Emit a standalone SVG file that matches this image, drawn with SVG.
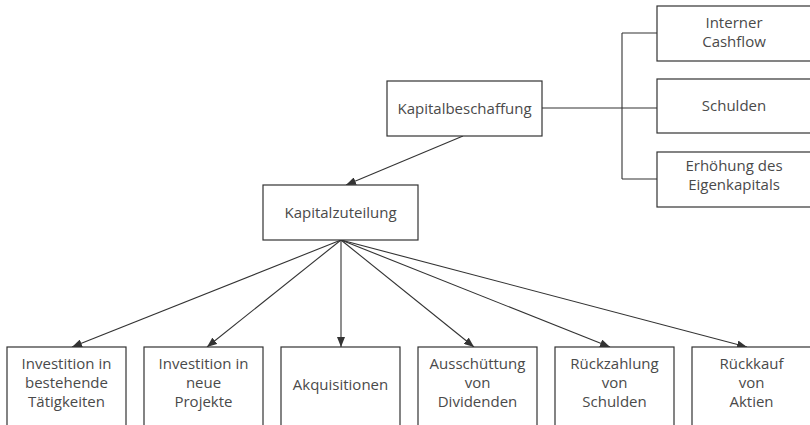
<svg xmlns="http://www.w3.org/2000/svg" width="810" height="425" viewBox="0 0 810 425">
  <style>
    .box { fill: #ffffff; stroke: #333333; stroke-width: 1.2; }
    .lbl { font-family: "Open Sans", "Noto Sans", sans-serif; font-size: 15px; fill: #4a4a4a; text-anchor: middle; }
    .edge { fill: none; stroke: #333333; stroke-width: 1.1; }
    .arrow { marker-end: url(#head); }
  </style>
  <defs>
    <marker id="head" viewBox="0 0 10 8" refX="10" refY="4" markerWidth="10" markerHeight="8" markerUnits="userSpaceOnUse" orient="auto">
      <path d="M0,0 L10,4 L0,8 Z" fill="#333333"/>
    </marker>
  </defs>
  <rect width="810" height="425" fill="#ffffff"/>

  <g id="connectors">
    <!-- funding sources bracket -->
    <path class="edge" d="M542,108 H657 M622,33 V179 M622,33 H657 M622,179 H657"/>
    <!-- funding to allocation -->
    <line class="edge arrow" x1="463" y1="136" x2="346" y2="185"/>
    <!-- allocation to uses -->
    <line class="edge arrow" x1="341" y1="240" x2="72" y2="347"/>
    <line class="edge arrow" x1="341" y1="240" x2="207" y2="347"/>
    <line class="edge arrow" x1="341" y1="240" x2="341" y2="347"/>
    <line class="edge arrow" x1="341" y1="240" x2="474" y2="347"/>
    <line class="edge arrow" x1="341" y1="240" x2="610" y2="347"/>
    <line class="edge arrow" x1="341" y1="240" x2="747" y2="347"/>
  </g>

  <g id="kapitalbeschaffung">
    <rect class="box" x="387" y="81" width="155" height="55"/>
    <text class="lbl" x="464.5" y="114">Kapitalbeschaffung</text>
  </g>
  <g id="interner-cashflow">
    <rect class="box" x="657" y="6" width="155" height="55"/>
    <text class="lbl" x="734" y="28">Interner</text>
    <text class="lbl" x="734" y="47">Cashflow</text>
  </g>
  <g id="schulden">
    <rect class="box" x="657" y="79" width="155" height="54"/>
    <text class="lbl" x="734" y="111">Schulden</text>
  </g>
  <g id="eigenkapital">
    <rect class="box" x="657" y="152" width="155" height="55"/>
    <text class="lbl" x="734" y="171">Erhöhung des</text>
    <text class="lbl" x="734" y="190">Eigenkapitals</text>
  </g>
  <g id="kapitalzuteilung">
    <rect class="box" x="263" y="185" width="155" height="55"/>
    <text class="lbl" x="340.5" y="218">Kapitalzuteilung</text>
  </g>

  <g id="bestehende-taetigkeiten">
    <rect class="box" x="7" y="347" width="119" height="80"/>
    <text class="lbl" x="66.5" y="369">Investition in</text>
    <text class="lbl" x="66.5" y="388">bestehende</text>
    <text class="lbl" x="66.5" y="407">Tätigkeiten</text>
  </g>
  <g id="neue-projekte">
    <rect class="box" x="144" y="347" width="119" height="80"/>
    <text class="lbl" x="203.5" y="369">Investition in</text>
    <text class="lbl" x="203.5" y="388">neue</text>
    <text class="lbl" x="203.5" y="407">Projekte</text>
  </g>
  <g id="akquisitionen">
    <rect class="box" x="281" y="347" width="119" height="80"/>
    <text class="lbl" x="340.5" y="390">Akquisitionen</text>
  </g>
  <g id="dividenden">
    <rect class="box" x="418" y="347" width="119" height="80"/>
    <text class="lbl" x="477.5" y="369">Ausschüttung</text>
    <text class="lbl" x="477.5" y="388">von</text>
    <text class="lbl" x="477.5" y="407">Dividenden</text>
  </g>
  <g id="rueckzahlung-schulden">
    <rect class="box" x="555" y="347" width="119" height="80"/>
    <text class="lbl" x="614.5" y="369">Rückzahlung</text>
    <text class="lbl" x="614.5" y="388">von</text>
    <text class="lbl" x="614.5" y="407">Schulden</text>
  </g>
  <g id="rueckkauf-aktien">
    <rect class="box" x="692" y="347" width="119" height="80"/>
    <text class="lbl" x="751.5" y="369">Rückkauf</text>
    <text class="lbl" x="751.5" y="388">von</text>
    <text class="lbl" x="751.5" y="407">Aktien</text>
  </g>
</svg>
